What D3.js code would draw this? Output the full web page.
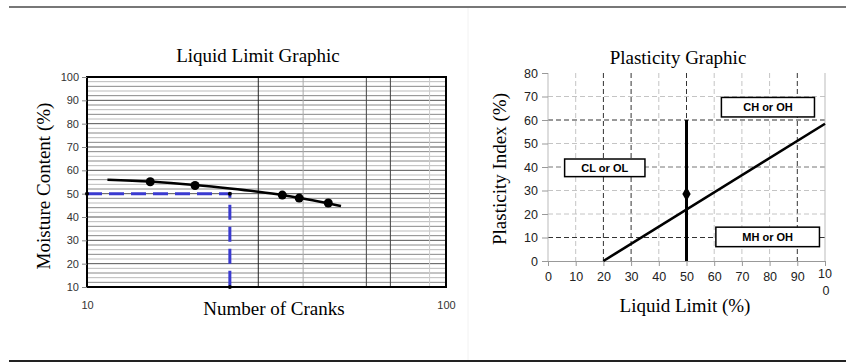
<!DOCTYPE html>
<html><head><meta charset="utf-8">
<script src="https://cdn.jsdelivr.net/npm/d3@7"></script>
<style>body{margin:0;background:#fff}svg{display:block}</style>
</head><body>
<svg id="c" width="846" height="363"></svg>
<script>
// ---------- data ----------
const llCranks   = [15, 20, 35, 39, 47];          // measured points (N)
const llMoisture = [55.1, 53.5, 49.4, 48.1, 46.0];// moisture content (%)
const fitCranks  = [11.4, 15, 20, 25, 30, 35, 40, 47, 51];
const fitMoist   = [56.0, 55.2, 53.7, 52.2, 50.8, 49.4, 47.9, 45.9, 44.7];
const llN25 = 25, llValue = 50;                   // liquid limit read at 25 cranks
const llYTicks = [10,20,30,40,50,60,70,80,90,100];
const llXTicks = [10,100];
const llVGrid  = [30,40,60,70,90];
const llVGridShade = ["#222","#aaa","#444","#444","#ccc"];

const piXTicks = [0,10,20,30,40,50,60,70,80,90,100];
const piYTicks = [0,10,20,30,40,50,60,70,80];
const aLineLL = [20, 100];
const aLinePI = [0, 58.4];
const sampleLL = 50, samplePI = 28.5, dividerTop = 60;
const zoneNames = ["CL or OL","CH or OH","MH or OH"];
const zoneLL0 = [6, 62.6, 60.6], zoneLL1 = [35, 96.2, 98.0];
const zonePI0 = [43.4, 69.6, 14.4], zonePI1 = [35.9, 61.3, 6.1];
const piVDark = [20,30,50,90];
const piHDark = [10,40,60];

const svg = d3.select("#c");
const serif = "'Liberation Serif','Times New Roman',serif";
const sans = "'Liberation Sans',Arial,sans-serif";

// frame lines
svg.append("line").attr("x1",9).attr("x2",846).attr("y1",7).attr("y2",7).attr("stroke","#777").attr("stroke-width",2);
svg.append("line").attr("x1",9).attr("x2",846).attr("y1",361).attr("y2",361).attr("stroke","#222").attr("stroke-width",2);
svg.append("line").attr("x1",468).attr("x2",468).attr("y1",8).attr("y2",360).attr("stroke","#f2f2f2").attr("stroke-width",1);

// ---------- Liquid limit chart ----------
const L = {x0:87, x1:446, y0:77, y1:287};
const lx = d3.scaleLog().domain([10,100]).range([L.x0,L.x1]);
const ly = d3.scaleLinear().domain([10,100]).range([L.y1,L.y0]);
const g1 = svg.append("g");
// horizontal minor grid
const hMinor = d3.range(12,100,2);
g1.selectAll("line.hm").data(hMinor).join("line")
  .attr("x1",L.x0).attr("x2",L.x1).attr("y1",d=>ly(d)).attr("y2",d=>ly(d))
  .attr("stroke",(d,i)=> d%10===0 ? "#555" : (i%2? "#bbb":"#888")).attr("stroke-width",1);
// vertical grid
g1.selectAll("line.vg").data(llVGrid).join("line")
  .attr("x1",d=>lx(d)).attr("x2",d=>lx(d)).attr("y1",L.y0).attr("y2",L.y1)
  .attr("stroke",(d,i)=>llVGridShade[i]).attr("stroke-width",1);
// border
g1.append("rect").attr("x",L.x0).attr("y",L.y0).attr("width",L.x1-L.x0).attr("height",L.y1-L.y0)
  .attr("fill","none").attr("stroke","#000").attr("stroke-width",2);
// y axis
const ay1 = d3.axisLeft(ly).tickValues(llYTicks).tickSize(5).tickPadding(3);
g1.append("g").attr("transform",`translate(${L.x0},0)`).call(ay1)
  .call(g=>g.select(".domain").remove())
  .call(g=>g.selectAll("line").attr("stroke","#888"))
  .call(g=>g.selectAll("text").attr("font-family",sans).attr("font-size",11).attr("fill","#333"));
// x axis labels
const ax1 = d3.axisBottom(lx).tickValues(llXTicks).tickFormat(d3.format("d")).tickSize(0).tickPadding(14);
g1.append("g").attr("transform",`translate(0,${L.y1})`).call(ax1)
  .call(g=>g.select(".domain").remove())
  .call(g=>g.selectAll("text").attr("font-family",sans).attr("font-size",11).attr("fill","#333"));
// dashed blue reading line
const blue = d3.line().x(d=>lx(d[0])).y(d=>ly(d[1]));
g1.append("path").attr("d",blue([[10,llValue],[llN25,llValue],[llN25,10]]))
  .attr("fill","none").attr("stroke","#3a3ad0").attr("stroke-width",3).attr("stroke-dasharray","15,7");
g1.selectAll("circle.ref").data([[10,llValue],[llN25,llValue],[llN25,10]]).join("circle")
  .attr("cx",d=>lx(d[0])).attr("cy",d=>ly(d[1])).attr("r",2).attr("fill","#000");
// fit curve
const fit = fitCranks.map((c,i)=>[c,fitMoist[i]]);
g1.append("path").attr("d",d3.line().x(d=>lx(d[0])).y(d=>ly(d[1])).curve(d3.curveMonotoneX)(fit))
  .attr("fill","none").attr("stroke","#000").attr("stroke-width",2.5);
g1.selectAll("circle.pt").data(llCranks.map((c,i)=>[c,llMoisture[i]])).join("circle")
  .attr("cx",d=>lx(d[0])).attr("cy",d=>ly(d[1])).attr("r",4.5).attr("fill","#000");
// titles
g1.append("text").attr("x",258).attr("y",62).attr("text-anchor","middle").attr("font-family",serif).attr("font-size",19).text("Liquid Limit Graphic");
g1.append("text").attr("x",274).attr("y",315).attr("text-anchor","middle").attr("font-family",serif).attr("font-size",19).text("Number of Cranks");
g1.append("text").attr("transform","translate(50,186) rotate(-90)").attr("text-anchor","middle").attr("font-family",serif).attr("font-size",19).text("Moisture Content (%)");

// ---------- Plasticity chart ----------
const P = {x0:548, x1:825, y0:73, y1:261};
const px = d3.scaleLinear().domain([0,100]).range([P.x0,P.x1]);
const py = d3.scaleLinear().domain([0,80]).range([P.y1,P.y0]);
const g2 = svg.append("g");
// grids
g2.selectAll("line.pv").data(piXTicks.filter(d=>d>0 && d<100)).join("line")
  .attr("x1",d=>px(d)).attr("x2",d=>px(d)).attr("y1",P.y0).attr("y2",P.y1)
  .attr("stroke",d=>piVDark.includes(d)?"#333":"#c4c4c4").attr("stroke-width",1).attr("stroke-dasharray","5,3");
g2.selectAll("line.ph").data(piYTicks.filter(d=>d>0 && d<80)).join("line")
  .attr("x1",P.x0).attr("x2",P.x1).attr("y1",d=>py(d)).attr("y2",d=>py(d))
  .attr("stroke",d=>piHDark.includes(d)?(d===40?"#777":"#333"):"#c4c4c4").attr("stroke-width",1).attr("stroke-dasharray","5,3");
// axes lines
g2.append("line").attr("x1",P.x0).attr("x2",P.x0).attr("y1",P.y0).attr("y2",P.y1).attr("stroke","#bbb");
g2.append("line").attr("x1",P.x1).attr("x2",P.x1).attr("y1",P.y0).attr("y2",P.y1).attr("stroke","#bbb");
const ay2 = d3.axisLeft(py).tickValues(piYTicks).tickSize(6).tickPadding(4);
g2.append("g").attr("transform",`translate(${P.x0},0)`).call(ay2)
  .call(g=>g.select(".domain").remove())
  .call(g=>g.selectAll("line").attr("stroke","#999"))
  .call(g=>g.selectAll("text").attr("font-family",sans).attr("font-size",12.5).attr("fill","#222"));
const ax2 = d3.axisBottom(px).tickValues(piXTicks).tickSize(5).tickPadding(6).tickFormat(d=>d===100?"":d);
g2.append("g").attr("transform",`translate(0,${P.y1})`).call(ax2)
  .call(g=>g.select(".domain").attr("stroke","#999"))
  .call(g=>g.selectAll("line").attr("stroke","#999"))
  .call(g=>g.selectAll("text").attr("font-family",sans).attr("font-size",12.5).attr("fill","#222"));
// "10 / 0" wrapped label for 100
const t100 = g2.append("text").attr("x",px(100)).attr("y",P.y1+17).attr("text-anchor","middle")
  .attr("font-family",sans).attr("font-size",12.5).attr("fill","#222");
t100.append("tspan").attr("x",px(100)).text("10");
t100.append("tspan").attr("x",px(100)+1).attr("dy",17).text("0");
// A-line
g2.append("path").attr("d",d3.line().x(d=>px(d[0])).y(d=>py(d[1]))(aLineLL.map((v,i)=>[v,aLinePI[i]])))
  .attr("stroke","#000").attr("stroke-width",2.6).attr("fill","none");
// LL=50 line
g2.append("line").attr("x1",px(sampleLL)).attr("x2",px(sampleLL)).attr("y1",py(0)).attr("y2",py(dividerTop))
  .attr("stroke","#000").attr("stroke-width",3);
// sample point
g2.append("path").attr("transform",`translate(${px(sampleLL)},${py(samplePI)})`)
  .attr("d",d3.symbol(d3.symbolDiamond,60)()).attr("fill","#000");
// zone boxes
zoneNames.forEach((n,i)=>{
  const x0=px(zoneLL0[i]), x1=px(zoneLL1[i]), y0=py(zonePI0[i]), y1=py(zonePI1[i]);
  g2.append("rect").attr("x",x0).attr("y",y0).attr("width",x1-x0).attr("height",y1-y0)
    .attr("fill","#fff").attr("stroke","#000").attr("stroke-width",1.5);
  g2.append("text").attr("x",(x0+x1)/2).attr("y",(y0+y1)/2+4).attr("text-anchor","middle")
    .attr("font-family",sans).attr("font-weight","bold").attr("font-size",11).text(n);
});
// titles
g2.append("text").attr("x",678).attr("y",64).attr("text-anchor","middle").attr("font-family",serif).attr("font-size",19).text("Plasticity Graphic");
g2.append("text").attr("x",685).attr("y",312).attr("text-anchor","middle").attr("font-family",serif).attr("font-size",19).text("Liquid Limit (%)");
g2.append("text").attr("transform","translate(506,169) rotate(-90)").attr("text-anchor","middle").attr("font-family",serif).attr("font-size",19).text("Plasticity Index (%)");
</script>
</body></html>
